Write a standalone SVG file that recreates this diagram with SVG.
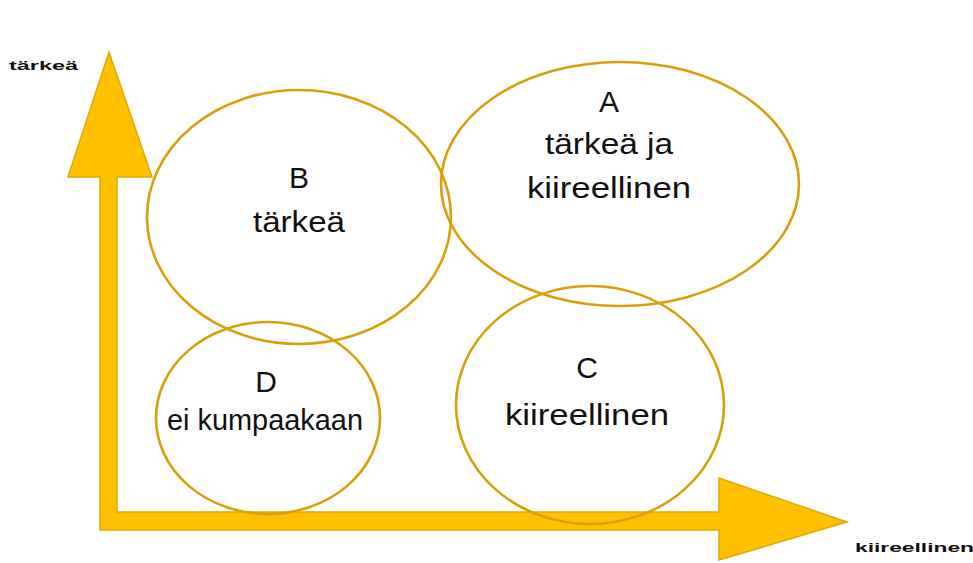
<svg xmlns="http://www.w3.org/2000/svg" width="973" height="563" viewBox="0 0 973 563">
  <style>
    .zone { fill: none; stroke: #D6A00A; stroke-width: 2.6; }
    .lbl { font-family: "Liberation Sans", Arial, sans-serif; font-size: 30px; fill: #111; text-anchor: middle; }
    .axis-lbl { font-family: "Liberation Sans", Arial, sans-serif; font-size: 12px; font-weight: bold; fill: #111; }
    .axis { fill: #FFC000; stroke: #E2A800; stroke-width: 1.5; stroke-linejoin: miter; }
  </style>
  <rect width="973" height="563" fill="#ffffff"/>

  <!-- axes: importance (up) and urgency (right) -->
  <g id="connectors">
    <path class="axis" d="M100,530 L100,177 L68,177 L109,52 L152,177 L117,177 L117,512 L719,512 L719,478 L847,522 L719,560 L719,530 Z"/>
  </g>

  <g id="axis-labels">
    <text class="axis-lbl" x="9" y="70" textLength="69" lengthAdjust="spacingAndGlyphs">tärkeä</text>
    <text class="axis-lbl" x="855" y="552" textLength="119" lengthAdjust="spacingAndGlyphs">kiireellinen</text>
  </g>

  <g id="node-a">
    <ellipse class="zone" cx="620" cy="184" rx="179" ry="122"/>
    <text class="lbl" x="609" y="112">A</text>
    <text class="lbl" x="609" y="154" textLength="128" lengthAdjust="spacingAndGlyphs">tärkeä ja</text>
    <text class="lbl" x="609" y="198" textLength="164" lengthAdjust="spacingAndGlyphs">kiireellinen</text>
  </g>

  <g id="node-b">
    <ellipse class="zone" cx="299" cy="217" rx="152" ry="127"/>
    <text class="lbl" x="299" y="188">B</text>
    <text class="lbl" x="299" y="232" textLength="92" lengthAdjust="spacingAndGlyphs">tärkeä</text>
  </g>

  <g id="node-c">
    <ellipse class="zone" cx="590" cy="405" rx="134" ry="119"/>
    <text class="lbl" x="587" y="378">C</text>
    <text class="lbl" x="587" y="425" textLength="164" lengthAdjust="spacingAndGlyphs">kiireellinen</text>
  </g>

  <g id="node-d">
    <ellipse class="zone" cx="268" cy="418" rx="112" ry="96"/>
    <text class="lbl" x="266" y="392">D</text>
    <text class="lbl" x="265" y="430" textLength="196" lengthAdjust="spacingAndGlyphs">ei kumpaakaan</text>
  </g>
</svg>
